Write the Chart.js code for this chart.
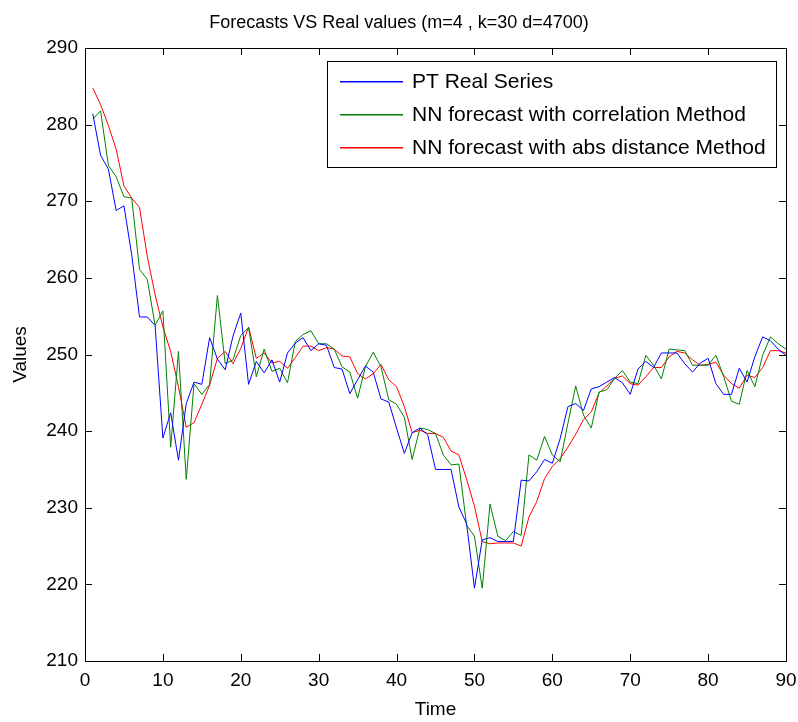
<!DOCTYPE html>
<html>
<head>
<meta charset="utf-8">
<script src="https://cdn.jsdelivr.net/npm/chart.js@4.4.1/dist/chart.umd.min.js"></script>
<style>
  html, body { margin: 0; padding: 0; background: #fff; }
  #wrap { width: 798px; height: 722px; }
</style>
</head>
<body>
<div id="wrap"><canvas id="c" width="798" height="722"></canvas></div>
<script>
const chartTitle = 'Forecasts VS Real values (m=4 , k=30 d=4700)';
const seriesLabels = ['PT Real Series', 'NN forecast with correlation Method', 'NN forecast with abs distance Method'];
const seriesColors = ['#0000ff', '#008000', '#ff0000'];

const timeSteps = [1,2,3,4,5,6,7,8,9,10,11,12,13,14,15,16,17,18,19,20,21,22,23,24,25,26,27,28,29,30,
  31,32,33,34,35,36,37,38,39,40,41,42,43,44,45,46,47,48,49,50,51,52,53,54,55,56,57,58,59,60,
  61,62,63,64,65,66,67,68,69,70,71,72,73,74,75,76,77,78,79,80,81,82,83,84,85,86,87,88,89,90];

const realSeries = [281.4,276.0,274.2,268.8,269.4,263.0,254.9,254.9,253.8,239.1,
  242.4,236.2,243.6,246.4,246.1,252.2,249.4,248.0,252.4,255.4,
  246.1,249.1,247.6,249.3,246.4,250.2,251.5,252.2,250.5,251.4,
  251.2,248.3,248.1,244.9,246.7,248.5,247.7,244.2,243.8,240.4,
  237.1,239.8,240.4,239.5,235.0,235.0,235.0,230.1,227.9,219.5,
  225.8,226.1,225.6,225.6,225.6,233.6,233.5,234.7,236.3,235.8,
  239.0,243.2,243.6,242.7,245.5,245.8,246.4,247.0,246.3,244.8,
  248.1,249.1,248.3,250.2,250.2,250.2,248.8,247.7,248.9,249.5,
  246.2,244.8,244.8,248.2,246.4,249.7,252.3,251.8,250.7,249.9];

const corrForecast = [280.7,281.8,274.7,273.2,270.6,270.4,261.1,259.8,253.8,255.7,
  237.9,250.4,233.7,246.2,244.8,246.1,257.7,248.8,249.3,252.5,
  253.5,247.1,250.7,247.8,248.2,246.3,251.7,252.6,253.1,251.4,
  251.4,250.7,248.4,247.7,244.3,248.4,250.3,248.4,244.1,243.5,
  241.8,236.3,240.4,240.2,239.7,236.9,235.6,235.7,227.7,226.3,
  219.5,230.5,226.3,225.7,226.9,226.4,236.9,236.2,239.3,236.9,
  236.0,241.0,245.9,242.1,240.4,245.1,245.4,246.9,247.9,246.4,
  246.2,249.9,248.6,246.8,250.7,250.6,250.5,248.6,248.6,248.6,
  249.9,247.1,243.9,243.5,247.9,245.8,249.9,252.3,251.4,250.7];

const absForecast = [284.8,282.6,279.9,276.8,272.0,270.4,269.2,262.8,257.8,253.6,
  250.4,245.8,240.5,241.1,243.5,246.0,249.5,250.4,248.8,250.8,
  253.6,249.5,250.2,248.9,249.1,248.2,249.6,251.1,251.1,250.5,
  250.9,250.7,249.8,249.7,247.5,246.8,247.5,248.7,246.7,245.8,
  243.2,239.8,240.1,239.7,239.7,239.2,237.4,236.9,233.7,230.2,
  225.6,225.3,225.4,225.4,225.4,225.0,228.8,230.8,233.8,235.4,
  236.4,237.9,239.6,241.5,242.5,245.0,245.9,246.9,247.2,246.2,
  246.0,247.1,248.3,248.3,249.7,250.4,250.2,249.3,248.6,248.7,
  249.0,247.3,246.2,245.6,247.3,247.0,248.3,250.5,250.5,250.2];

const xTickValues = [0,10,20,30,40,50,60,70,80,90];
const yTickValues = [210,220,230,240,250,260,270,280,290];

const FONT = '"Liberation Sans", Arial, Helvetica, sans-serif';

function toPoints(values) {
  return timeSteps.map((t, i) => ({ x: t, y: values[i] }));
}

const frameAndLegend = {
  id: 'frameAndLegend',
  afterDatasetsDraw(chart) {
    const ctx = chart.ctx;
    const a = chart.chartArea;
    const xs = chart.scales.x, ys = chart.scales.y;
    ctx.save();
    ctx.strokeStyle = '#000';
    ctx.lineWidth = 1;
    ctx.strokeRect(Math.round(a.left) + 0.5, Math.round(a.top) + 0.5,
                   Math.round(a.right - a.left), Math.round(a.bottom - a.top));
    const tl = 7;
    ctx.beginPath();
    xs.ticks.forEach(t => {
      const px = Math.round(xs.getPixelForValue(t.value)) + 0.5;
      ctx.moveTo(px, a.bottom); ctx.lineTo(px, a.bottom - tl);
      ctx.moveTo(px, a.top); ctx.lineTo(px, a.top + tl);
    });
    ys.ticks.forEach(t => {
      const py = Math.round(ys.getPixelForValue(t.value)) + 0.5;
      ctx.moveTo(a.left, py); ctx.lineTo(a.left + tl, py);
      ctx.moveTo(a.right, py); ctx.lineTo(a.right - tl, py);
    });
    ctx.stroke();

    const bx = 327.5, by = 61.5, bw = 449, bh = 106;
    ctx.fillStyle = '#fff';
    ctx.fillRect(bx, by, bw, bh);
    ctx.strokeStyle = '#000';
    ctx.strokeRect(bx, by, bw, bh);
    ctx.font = '21px ' + FONT;
    ctx.textBaseline = 'middle';
    ctx.textAlign = 'left';
    seriesLabels.forEach((label, i) => {
      const ry = Math.round(by + 19 + i * 33);
      ctx.fillStyle = seriesColors[i];
      ctx.fillRect(340, ry, 63, 1.5);
      ctx.fillStyle = '#000';
      ctx.fillText(label, 412, ry + 1.5);
    });
    ctx.restore();
  }
};

new Chart(document.getElementById('c'), {
  type: 'line',
  data: {
    datasets: seriesLabels.map((label, i) => ({
      label: label,
      data: toPoints([realSeries, corrForecast, absForecast][i]),
      borderColor: seriesColors[i],
      borderWidth: 1, pointRadius: 0, tension: 0, fill: false
    }))
  },
  options: {
    responsive: false,
    animation: false,
    events: [],
    layout: { padding: { left: 0, right: 0, top: 0, bottom: 0 } },
    plugins: {
      legend: { display: false },
      tooltip: { enabled: false },
      title: {
        display: true,
        text: chartTitle,
        color: '#000',
        font: { family: FONT, size: 18, weight: 'normal' },
        padding: { top: 12, bottom: 14.4 }
      }
    },
    scales: {
      x: {
        type: 'linear',
        min: 0, max: 90,
        afterBuildTicks: s => { s.ticks = xTickValues.map(v => ({ value: v })); },
        afterFit: s => { s.height = 61; s.paddingRight = 12; s.paddingLeft = 0; },
        grid: { display: false, drawTicks: false },
        border: { display: true, color: '#000', width: 1 },
        ticks: { color: '#000', font: { family: FONT, size: 19 }, padding: 8, maxRotation: 0 },
        title: { display: true, text: 'Time', color: '#000', font: { family: FONT, size: 19 }, padding: { top: 0, bottom: 1 } }
      },
      y: {
        type: 'linear',
        min: 210, max: 290,
        afterBuildTicks: s => { s.ticks = yTickValues.map(v => ({ value: v })); },
        afterFit: s => { s.width = 85; s.paddingTop = 0; s.paddingBottom = 0; },
        grid: { display: false, drawTicks: false },
        border: { display: true, color: '#000', width: 1 },
        ticks: { color: '#000', font: { family: FONT, size: 19 }, padding: 7 },
        title: { display: true, text: 'Values', color: '#000', font: { family: FONT, size: 19 }, padding: { top: 9, bottom: 0 } }
      }
    }
  },
  plugins: [frameAndLegend]
});
</script>
</body>
</html>
